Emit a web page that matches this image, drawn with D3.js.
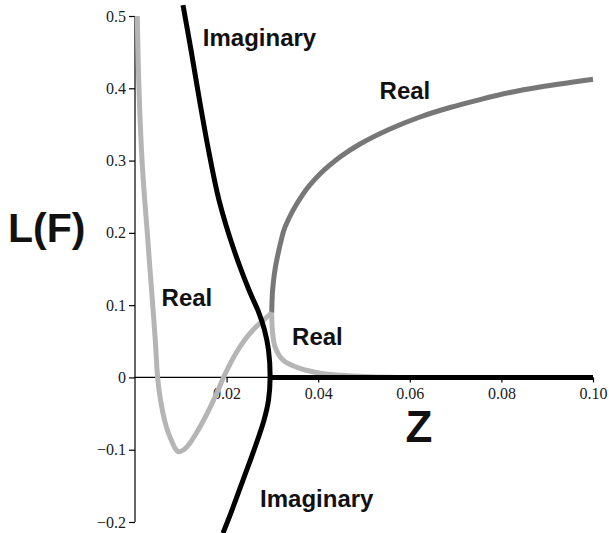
<!DOCTYPE html>
<html>
<head>
<meta charset="utf-8">
<script src="https://cdn.jsdelivr.net/npm/d3@7"></script>
<style>
  html, body { margin: 0; padding: 0; background: #fff; }
  svg { display: block; }
</style>
</head>
<body>
<svg id="chart" width="609" height="533"></svg>
<script>
// ---- Data ----
const xTicks = [0.02, 0.04, 0.06, 0.08, 0.10];
const yTicks = [-0.2, -0.1, 0, 0.1, 0.2, 0.3, 0.4, 0.5];

// Light gray "Real" branch: steep left branch, dip, rising to the cusp
const realLightZ = [0.00050, 0.00087, 0.00153, 0.00212, 0.00269, 0.00328, 0.00387, 0.00443, 0.00494, 0.00557, 0.00644, 0.00721, 0.00801, 0.00873, 0.00945, 0.01070, 0.01201, 0.01354, 0.01507, 0.01659, 0.01801, 0.01932, 0.02074, 0.02227, 0.02402, 0.02576, 0.02773, 0.02985];
const realLightL = [0.4999, 0.3989, 0.3008, 0.2455, 0.1998, 0.1486, 0.1002, 0.0517, 0.0, -0.0313, -0.0589, -0.0755, -0.0880, -0.0977, -0.1028, -0.0997, -0.0907, -0.0755, -0.0582, -0.0389, -0.0195, 0.0, 0.0185, 0.0358, 0.0524, 0.0656, 0.0773, 0.0895];

// Light gray "Real" branch from cusp decaying to zero
const realTailZ = [0.02985, 0.0300, 0.0306, 0.0324, 0.0360, 0.0404, 0.0448, 0.0513, 0.0579];
const realTailL = [0.0895, 0.065, 0.042, 0.0235, 0.0125, 0.006, 0.003, 0.001, 0.0];

// Dark gray "Real" upper branch
const realDarkZ = [0.02985, 0.03000, 0.03024, 0.03063, 0.03118, 0.03188, 0.03275, 0.03668, 0.04039, 0.04476, 0.04913, 0.05568, 0.06223, 0.06878, 0.07533, 0.08188, 0.08843, 0.09498, 0.1000];
const realDarkL = [0.0895, 0.1168, 0.1334, 0.1514, 0.1693, 0.1887, 0.2080, 0.2537, 0.2814, 0.3049, 0.3229, 0.3437, 0.3603, 0.3734, 0.3844, 0.3941, 0.4017, 0.4079, 0.4124];

// Black "Imaginary" curve
const imagZ = [0.01048, 0.01223, 0.01408, 0.01605, 0.01834, 0.02162, 0.02489, 0.02707, 0.02828, 0.02915, 0.0295, 0.02915, 0.02817, 0.02598, 0.02358, 0.02118, 0.01921];
const imagL = [0.515, 0.4529, 0.3838, 0.3146, 0.2454, 0.1762, 0.1209, 0.0891, 0.0656, 0.0379, 0.0, -0.0314, -0.0590, -0.1005, -0.1420, -0.1835, -0.2153];

// Black horizontal branch along L = 0
const imagFlatZ = [0.0295, 0.10];
const imagFlatL = [0.0, 0.0];

const labels = [
  { text: "Imaginary", z: 0.0148, l: 0.459 },
  { text: "Real", z: 0.0534, l: 0.385 },
  { text: "Real", z: 0.0058, l: 0.099 },
  { text: "Real", z: 0.0343, l: 0.045 },
  { text: "Imaginary", z: 0.0273, l: -0.179 }
];

// ---- Drawing ----
const svg = d3.select("#chart");
const x = d3.scaleLinear().domain([0, 0.1]).range([135, 593]);
const y = d3.scaleLinear().domain([-0.2, 0.5]).range([522, 16]);

const serif = "'Liberation Serif', 'Times New Roman', Times, serif";
const sans = "'Liberation Sans', Arial, Helvetica, sans-serif";

const fmtY = v => (v < 0 ? "\u2212" + d3.format(".1f")(-v) : (v === 0 ? "0" : d3.format(".1f")(v)));

const yAxis = svg.append("g")
  .attr("transform", `translate(${x(0)},0)`)
  .call(d3.axisLeft(y).tickValues(yTicks).tickSize(6).tickPadding(3).tickFormat(fmtY));
yAxis.attr("font-family", serif).attr("font-size", 16);
yAxis.select(".domain").attr("d", `M0,${y(0.5)}V${y(-0.2)}`).attr("stroke", "#000").attr("stroke-width", 1.2);
yAxis.selectAll(".tick line").attr("stroke", "#000").attr("stroke-width", 1.2);
yAxis.selectAll("text").attr("fill", "#1a1a1a");

const xAxis = svg.append("g")
  .attr("transform", `translate(0,${y(0)})`)
  .call(d3.axisBottom(x).tickValues(xTicks).tickSize(5).tickPadding(5).tickFormat(d3.format(".2f")));
xAxis.attr("font-family", serif).attr("font-size", 16);
xAxis.select(".domain").attr("d", `M${x(0)},0H${x(0.1)}`).attr("stroke", "#000").attr("stroke-width", 1.2);
xAxis.selectAll(".tick line").attr("stroke", "#000").attr("stroke-width", 1.2);
xAxis.selectAll("text").attr("fill", "#1a1a1a");

const line = d3.line()
  .x(d => x(d[0]))
  .y(d => y(d[1]))
  .curve(d3.curveCatmullRom.alpha(0.5));
const zip = (a, b) => a.map((v, i) => [v, b[i]]);

function drawCurve(zs, ls, color, w) {
  svg.append("path")
    .datum(zip(zs, ls))
    .attr("d", line)
    .attr("fill", "none")
    .attr("stroke", color)
    .attr("stroke-width", w)
    .attr("stroke-linejoin", "round");
}

drawCurve(realDarkZ, realDarkL, "#777777", 5);
drawCurve(realLightZ, realLightL, "#b5b5b5", 5);
drawCurve(realTailZ, realTailL, "#b5b5b5", 5);
drawCurve(imagZ, imagL, "#000000", 5);
drawCurve(imagFlatZ, imagFlatL, "#000000", 5);

svg.selectAll("text.lbl")
  .data(labels)
  .enter().append("text")
  .attr("class", "lbl")
  .attr("x", d => x(d.z))
  .attr("y", d => y(d.l))
  .attr("font-family", sans)
  .attr("font-weight", "bold")
  .attr("font-size", 24)
  .attr("fill", "#111")
  .text(d => d.text);

svg.append("text")
  .attr("x", 8).attr("y", 242)
  .attr("font-family", sans).attr("font-weight", "bold")
  .attr("font-size", 41).attr("fill", "#111")
  .text("L(F)");

svg.append("text")
  .attr("x", 419).attr("y", 442)
  .attr("text-anchor", "middle")
  .attr("font-family", sans).attr("font-weight", "bold")
  .attr("font-size", 44).attr("fill", "#111")
  .text("Z");
</script>
</body>
</html>
